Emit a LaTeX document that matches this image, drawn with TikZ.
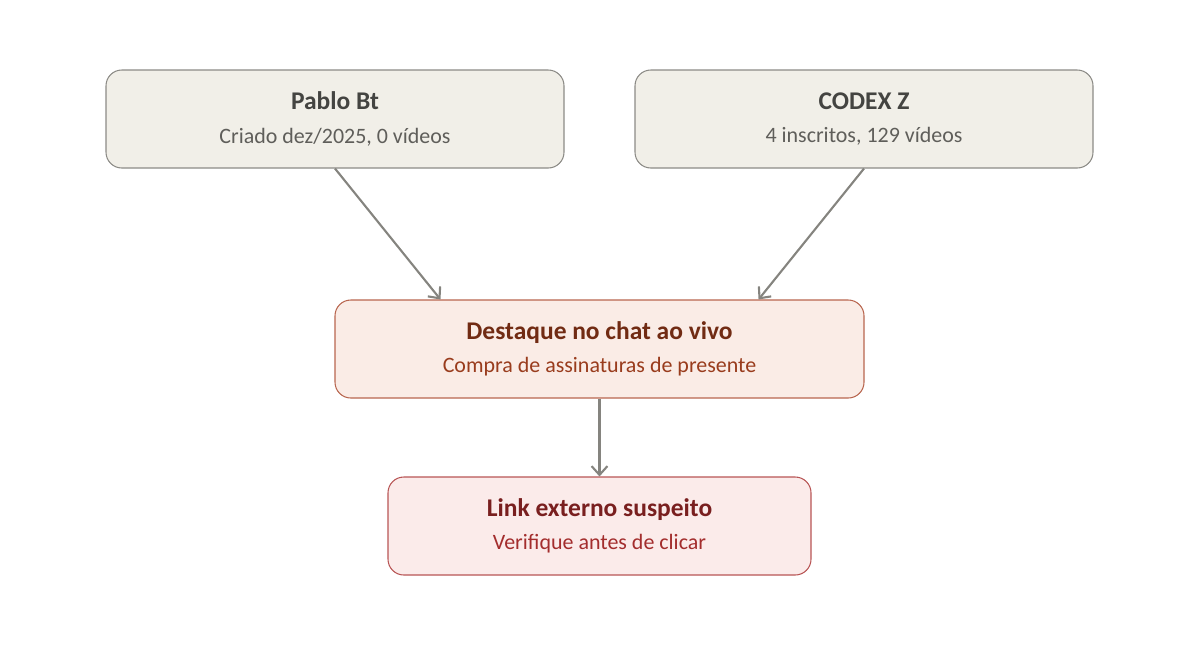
\documentclass[tikz,border=0pt]{standalone}
\usepackage{fontspec}
\setmainfont{Carlito}
\usetikzlibrary{positioning,arrows.meta}
\definecolor{grayfill}{HTML}{F1EFE8}
\definecolor{graydraw}{HTML}{8C8B86}
\definecolor{graytitle}{HTML}{444441}
\definecolor{graysub}{HTML}{5F5E5A}
\definecolor{orfill}{HTML}{FAECE6}
\definecolor{ordraw}{HTML}{B8664F}
\definecolor{ortitle}{HTML}{712B13}
\definecolor{orsub}{HTML}{993C1D}
\definecolor{redfill}{HTML}{FBEBEA}
\definecolor{reddraw}{HTML}{B85555}
\definecolor{redtitle}{HTML}{791F1F}
\definecolor{redsub}{HTML}{A32D2D}
\definecolor{arrowgray}{HTML}{85847F}
\tikzset{
  box/.style={rounded corners=9pt, minimum height=1.96cm, align=center, line width=0.6pt},
  flow/.style={-{Straight Barb[length=5pt,width=9pt]}, line width=1.2pt, draw=arrowgray},
}
\newcommand{\boxtext}[4]{{\fontsize{14.5}{18}\selectfont\bfseries\color{#1}#2}\\[7pt]{\fontsize{12.5}{15}\selectfont\color{#3}#4}}
\begin{document}
\begin{tikzpicture}
    \useasboundingbox (0,0) rectangle (24,-12.92);
    \node[box, fill=grayfill, draw=graydraw, minimum width=9.16cm] (pablo) at (6.7,-2.38) {\boxtext{graytitle}{Pablo Bt}{graysub}{Criado dez/2025, 0 vídeos}};
    \node[box, fill=grayfill, draw=graydraw, minimum width=9.16cm] (codex) at (17.28,-2.38) {\boxtext{graytitle}{CODEX Z}{graysub}{4 inscritos, 129 vídeos}};
    \node[box, fill=orfill, draw=ordraw, minimum width=10.58cm] (chat) at (11.99,-6.98) {\boxtext{ortitle}{Destaque no chat ao vivo}{orsub}{Compra de assinaturas de presente}};
    \node[box, fill=redfill, draw=reddraw, minimum width=8.46cm] (link) at (11.99,-10.52) {\boxtext{redtitle}{Link externo suspeito}{redsub}{Verifique antes de clicar}};
    \draw[flow] (pablo.south) -- ([xshift=2.12cm]chat.north west);
    \draw[flow] (codex.south) -- ([xshift=-2.12cm]chat.north east);
    \draw[flow] (chat.south) -- (link.north);
\end{tikzpicture}
\end{document}
